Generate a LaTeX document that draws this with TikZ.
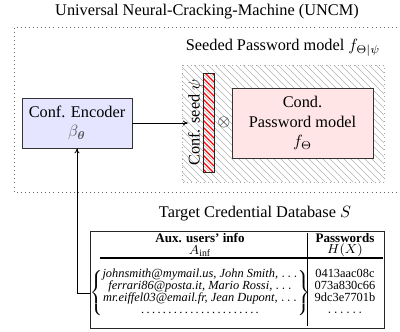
\documentclass[tikz,border=0pt]{standalone}
\usepackage{amsmath}
\usepackage{fontspec}
\setmainfont{Liberation Serif}
\usetikzlibrary{arrows.meta}
\begin{document}
\begin{tikzpicture}[x=0.613pt,y=-0.613pt,
  box/.style={draw=black!80,line width=0.5pt,align=center,inner sep=0pt},
  lbl/.style={inner sep=0pt,align=center},
  small/.style={inner sep=0pt,align=center,font=\footnotesize},
  tiny/.style={inner sep=0pt,align=center,font=\fontsize{7.6}{9}\selectfont},
  hatchgray/.style={black!30,line width=0.4pt},
  hatchred/.style={red,line width=0.7pt},
  conn/.style={line width=0.5pt,-{To[length=3pt,width=3pt]}}]
\useasboundingbox (0,0) rectangle (400,331);
\begin{scope}
\clip (0,0) rectangle (400,331);
% UNCM outer dotted box
\draw[black!60,dotted,line width=0.5pt] (405,27) -- (14,27) -- (14,192) -- (405,192);
\end{scope}
\node[lbl] (uncm) at (207,12) {Universal Neural-Cracking-Machine (UNCM)};
% seeded model region (hatched)
\begin{scope}
\clip (182,65) rectangle (384,182);
\foreach \s in {61,68,...,390} {\draw[hatchgray] (\s,65) -- ++(117,117);}
\end{scope}
\draw[black!35,dotted,line width=0.5pt] (182,65) rectangle (384,182);
\node[lbl] (seeded) at (283,48) {Seeded Password model $f_{\Theta|\psi}$};
% encoder
\node[box,fill=blue!10,minimum width=67.4pt,minimum height=30.7pt] (enc) at (77,123)
  {Conf. Encoder\\{\color{black!65}$\beta_{\boldsymbol{\theta}}$}};
% seed bar
\begin{scope}
\clip (203,73) rectangle (214,172);
\foreach \s in {100,107,...,220} {\draw[hatchred] (\s,73) -- ++(99,99);}
\end{scope}
\node[draw=black!85,line width=0.5pt,minimum width=6.7pt,minimum height=60.7pt,inner sep=0pt] (bar) at (208.5,122.5) {};
\node[lbl,rotate=90] (seed) at (195.5,122.5) {Conf. seed $\psi$};
\node[lbl] (ot) at (224,122) {$\otimes$};
% conditional model
\node[box,fill=red!10,minimum width=86.4pt,minimum height=42.9pt] (cond) at (302.5,123)
  {Cond.\\Password model\\$f_{\Theta}$};
\draw[conn] (enc.east) -- (enc.east -| seed.north);
% database
\node[lbl] (dbtitle) at (255,214) {Target Credential Database $S$};
\draw[line width=0.6pt,black!85] (90,231) rectangle (384,328);
\draw[line width=0.5pt] (307,233) -- (307,326);
\draw[line width=0.7pt] (100,258) -- (383,258);
\node[small] (h1) at (200,245) {\textbf{Aux. users' info}\\[-2.5pt]$A_{\mathrm{inf}}$};
\node[small] (h2) at (345,245) {\textbf{Passwords}\\[-2.5pt]$H(X)$};
\renewcommand{\arraystretch}{0.8}
\node[tiny] (rows) at (200,293) {$\left\{\begin{array}{@{}c@{}}
 \mbox{\itshape johnsmith@mymail.us, John Smith, $\ldots$}\\
 \mbox{\itshape ferrari86@posta.it, Mario Rossi, $\ldots$}\\
 \mbox{\itshape mr.eiffel03@email.fr, Jean Dupont, $\ldots$}\\
 \mbox{\makebox[76pt]{\dotfill}}
 \end{array}\right\}$};
\node[tiny] (hash) at (345,293) {$\begin{array}{@{}c@{}}
 \mbox{0413aac08c}\\ \mbox{073a830c66}\\ \mbox{9dc3e7701b}\\ \ldots\ldots
 \end{array}$};
\draw[conn] (rows.west) -| (enc.south);
\end{tikzpicture}
\end{document}
